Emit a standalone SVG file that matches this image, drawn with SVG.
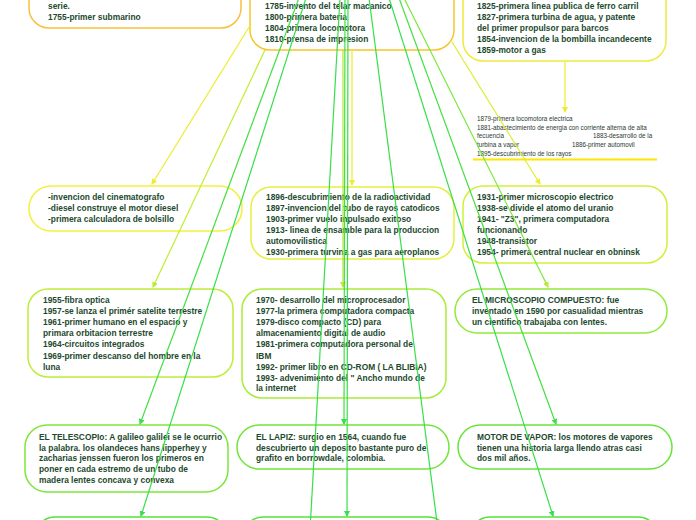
<svg xmlns="http://www.w3.org/2000/svg" width="696" height="520" viewBox="0 0 696 520">
<defs>
<style>
.n{fill:#ffffff;stroke-width:1.5}
.t{font-family:"Liberation Sans",Arial,sans-serif;font-weight:bold;font-size:8.4px;fill:#1d4a2e}
.s{font-family:"Liberation Sans",Arial,sans-serif;font-size:6.3px;fill:#2a3a30}
.c{fill:none;stroke-width:1.2}
</style>
<marker id="ay" markerWidth="6" markerHeight="6" refX="5" refY="3" orient="auto" markerUnits="userSpaceOnUse"><path d="M0,0 L6,3 L0,6 Z" fill="#efec2c"/></marker>
<marker id="ayg" markerWidth="6" markerHeight="6" refX="5" refY="3" orient="auto" markerUnits="userSpaceOnUse"><path d="M0,0 L6,3 L0,6 Z" fill="#b8ec30"/></marker>
<marker id="ag" markerWidth="6" markerHeight="6" refX="5" refY="3" orient="auto" markerUnits="userSpaceOnUse"><path d="M0,0 L6,3 L0,6 Z" fill="#36e04a"/></marker>
</defs>
<rect width="696" height="520" fill="#ffffff"/>

<g id="n-1755">
<rect class="n" x="29" y="-30" width="212" height="58" rx="20" stroke="#f6c23e"/>
<text class="t" x="48" y="9">serie.</text>
<text class="t" x="48" y="19.7">1755-primer submarino</text>
</g>
<g id="n-1785">
<rect class="n" x="250" y="-40" width="204" height="90" rx="20" stroke="#f8c52a"/>
<text class="t" x="265" y="9">1785-invento del telar macanico</text>
<text class="t" x="265" y="19.7">1800-primera bateria</text>
<text class="t" x="265" y="30.7">1804-primera locomotora</text>
<text class="t" x="265" y="42">1810-prensa de impresion</text>
</g>
<g id="n-1825">
<rect class="n" x="463" y="-30" width="203" height="91" rx="20" stroke="#f1e93e"/>
<text class="t" x="477" y="9">1825-primera linea publica de ferro carril</text>
<text class="t" x="477" y="19.7">1827-primera turbina de agua, y patente</text>
<text class="t" x="477" y="30.7">del primer propulsor para barcos</text>
<text class="t" x="477" y="42">1854-invencion de la bombilla incandecente</text>
<text class="t" x="477" y="53">1859-motor a gas</text>
</g>
<g id="n-1879">
<text class="s" x="477" y="120.5">1879-primera locomotora electrica</text>
<text class="s" x="477" y="129.5">1881-abastecimiento de energia con corriente alterna de alta</text>
<text class="s" x="477" y="138">fecuencia</text>
<text class="s" x="593" y="138">1883-desarrollo de la</text>
<text class="s" x="477" y="146.5">turbina a vapor</text>
<text class="s" x="572" y="146.5">1886-primer automovil</text>
<text class="s" x="477" y="155.5">1895-descubrimiento de los rayos</text>
<line x1="473" y1="159.5" x2="657" y2="159.5" stroke="#ffe600" stroke-width="2"/>
</g>
<g id="n-cine">
<rect class="n" x="29" y="186" width="213" height="45" rx="22" stroke="#f3f03c"/>
<text class="t" x="48" y="199.7">-invencion del cinematografo</text>
<text class="t" x="48" y="210.7">-diesel construye el motor diesel</text>
<text class="t" x="48" y="222">-primera calculadora de bolsillo</text>
</g>
<g id="n-1896">
<rect class="n" x="251" y="187" width="203" height="72" rx="20" stroke="#e6ef3c"/>
<text class="t" x="266" y="199.7">1896-descubrimiento de la radioactividad</text>
<text class="t" x="266" y="210.7">1897-invencion del tubo de rayos catodicos</text>
<text class="t" x="266" y="222">1903-primer vuelo inpulsado exitoso</text>
<text class="t" x="266" y="233">1913- linea de ensamble para la produccion</text>
<text class="t" x="266" y="244">automovilistica</text>
<text class="t" x="266" y="255.3">1930-primera turvina a gas para aeroplanos</text>
</g>
<g id="n-1931">
<rect class="n" x="463" y="186" width="204" height="77" rx="20" stroke="#d2ef3c"/>
<text class="t" x="477" y="199.7">1931-primer microscopio electrico</text>
<text class="t" x="477" y="210.7">1938-se divide el atomo del uranio</text>
<text class="t" x="477" y="222">1941- "Z3", primera computadora</text>
<text class="t" x="477" y="233">funcionando</text>
<text class="t" x="477" y="244">1948-transistor</text>
<text class="t" x="477" y="255.3">1954- primera central nuclear en obninsk</text>
</g>
<g id="n-1955">
<rect class="n" x="28" y="289" width="205" height="88" rx="20" stroke="#bdee3a"/>
<text class="t" x="43" y="303">1955-fibra optica</text>
<text class="t" x="43" y="314">1957-se lanza el primér satelite terrestre</text>
<text class="t" x="43" y="325.3">1961-primer humano en el espacio y</text>
<text class="t" x="43" y="336.3">primara orbitacion terrestre</text>
<text class="t" x="43" y="347.3">1964-circuitos integrados</text>
<text class="t" x="43" y="358.7">1969-primer descanso del hombre en la</text>
<text class="t" x="43" y="369.7">luna</text>
</g>
<g id="n-1970">
<rect class="n" x="242" y="289" width="204" height="109" rx="20" stroke="#a9ec3a"/>
<text class="t" x="256" y="303">1970- desarrollo del microprocesador</text>
<text class="t" x="256" y="314">1977-la primera computadora compacta</text>
<text class="t" x="256" y="325.3">1979-disco compacto (CD) para</text>
<text class="t" x="256" y="336.3">almacenamiento digital de audio</text>
<text class="t" x="256" y="347.3">1981-primera computadora personal de</text>
<text class="t" x="256" y="358.7">IBM</text>
<text class="t" x="256" y="369.7">1992- primer libro en CD-ROM ( LA BLIBIA)</text>
<text class="t" x="256" y="380.7">1993- advenimiento del " Ancho mundo de</text>
<text class="t" x="256" y="391.3">la internet</text>
</g>
<g id="n-microscopio">
<rect class="n" x="455" y="289" width="212" height="44" rx="22" stroke="#93ea3a"/>
<text class="t" x="472" y="303">EL MICROSCOPIO COMPUESTO: fue</text>
<text class="t" x="472" y="314">inventado en 1590 por casualidad mientras</text>
<text class="t" x="472" y="325">un cientifico trabajaba con lentes.</text>
</g>
<g id="n-telescopio">
<rect class="n" x="25" y="425" width="203" height="67" rx="22" stroke="#7ee63a"/>
<text class="t" x="39" y="439.7">EL TELESCOPIo: A galileo galilei se le ocurrio</text>
<text class="t" x="39" y="450.7">la palabra. los olandeces hans lipperhey y</text>
<text class="t" x="39" y="461.3">zacharias jenssen fueron los primeros en</text>
<text class="t" x="39" y="472">poner en cada estremo de un tubo de</text>
<text class="t" x="39" y="483">madera lentes concava y convexa</text>
</g>
<g id="n-lapiz">
<rect class="n" x="237" y="425" width="212" height="44" rx="22" stroke="#72e53a"/>
<text class="t" x="256" y="439.7">EL LAPIZ: surgio en 1564, cuando fue</text>
<text class="t" x="256" y="450.7">descubrierto un deposito bastante puro de</text>
<text class="t" x="256" y="461.3">grafito en borrowdale, colombia.</text>
</g>
<g id="n-vapor">
<rect class="n" x="458" y="425" width="214" height="44" rx="22" stroke="#6ae43a"/>
<text class="t" x="477" y="439.7">MOTOR DE VAPOR: los motores de vapores</text>
<text class="t" x="477" y="450.7">tienen una historia larga llendo atras casi</text>
<text class="t" x="477" y="461.3">dos mil años.</text>
</g>
<g id="n-row4-left">
<rect class="n" x="35" y="517" width="192" height="40" rx="20" stroke="#55e23a"/>
</g>
<g id="n-row4-center">
<rect class="n" x="243" y="517" width="205" height="40" rx="20" stroke="#55e23a"/>
</g>
<g id="n-row4-right">
<rect class="n" x="470" y="517" width="188" height="40" rx="20" stroke="#55e23a"/>
</g>

<g id="connectors">
<line class="c" x1="251" y1="24" x2="152" y2="184" stroke="#efec2c" marker-end="url(#ay)"/>
<line class="c" x1="352" y1="50" x2="352" y2="185" stroke="#efec2c" marker-end="url(#ay)"/>
<line class="c" x1="452" y1="42" x2="540" y2="184" stroke="#dcee2e" marker-end="url(#ay)"/>
<line class="c" x1="565" y1="62" x2="565" y2="112" stroke="#efec2c" marker-end="url(#ay)"/>
<line class="c" x1="265" y1="50" x2="153" y2="287" stroke="#c0ee30" marker-end="url(#ayg)"/>
<line class="c" x1="343" y1="50" x2="343" y2="287" stroke="#aeec30" marker-end="url(#ayg)"/>
<line class="c" x1="404" y1="-2" x2="548" y2="287" stroke="#78e83a" marker-end="url(#ayg)"/>
<line class="c" x1="299" y1="-2" x2="140" y2="424" stroke="#44e040" marker-end="url(#ag)"/>
<line class="c" x1="345" y1="-2" x2="344" y2="424" stroke="#44e040" marker-end="url(#ag)"/>
<line class="c" x1="399" y1="-2" x2="556" y2="424" stroke="#44e040" marker-end="url(#ag)"/>
<line class="c" x1="306" y1="-2" x2="141" y2="516" stroke="#36e04a" marker-end="url(#ag)"/>
<line class="c" x1="348" y1="-2" x2="347" y2="516" stroke="#36e04a" marker-end="url(#ag)"/>
<line class="c" x1="389" y1="-2" x2="553" y2="516" stroke="#36e04a" marker-end="url(#ag)"/>
<line class="c" x1="340" y1="-2" x2="310" y2="530" stroke="#36e04a"/>
<line class="c" x1="369" y1="-2" x2="438" y2="530" stroke="#36e04a"/>
</g>
</svg>
